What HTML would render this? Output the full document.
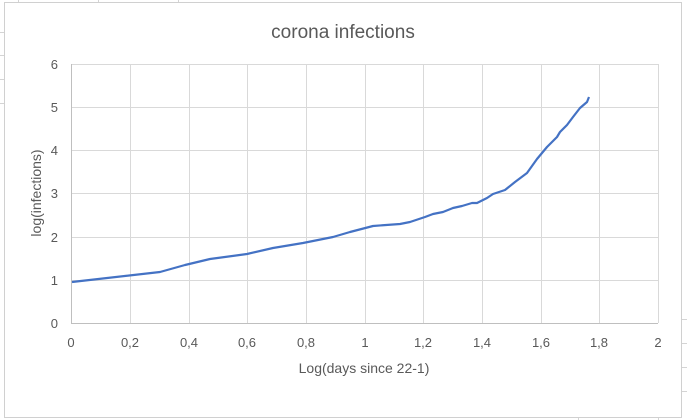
<!DOCTYPE html>
<html><head><meta charset="utf-8"><style>
html,body{margin:0;padding:0;background:#fff;}
svg{display:block;font-family:"Liberation Sans",sans-serif;}
</style></head><body>
<svg width="687" height="420" viewBox="0 0 687 420">
<g stroke="#d4d4d4" stroke-width="1">
<line x1="18.5" y1="0" x2="18.5" y2="3"/><line x1="98.5" y1="0" x2="98.5" y2="3"/><line x1="178.5" y1="0" x2="178.5" y2="3"/>
<line x1="0" y1="32.5" x2="4" y2="32.5"/><line x1="0" y1="55.5" x2="4" y2="55.5"/><line x1="0" y1="79.5" x2="4" y2="79.5"/><line x1="0" y1="103.5" x2="4" y2="103.5"/>
<line x1="682" y1="319.5" x2="687" y2="319.5"/><line x1="682" y1="343.5" x2="687" y2="343.5"/><line x1="682" y1="367.5" x2="687" y2="367.5"/><line x1="682" y1="391.5" x2="687" y2="391.5"/>
<line x1="578.5" y1="418" x2="578.5" y2="420"/><line x1="658.5" y1="418" x2="658.5" y2="420"/>
</g>
<rect x="4.5" y="2.5" width="677" height="415" fill="#fff" stroke="#d0d0d0"/>
<text x="343" y="38" text-anchor="middle" font-size="19" fill="#595959">corona infections</text>
<g stroke="#d9d9d9" stroke-width="1">
<line x1="71" y1="64.5" x2="658" y2="64.5"/><line x1="71" y1="107.5" x2="658" y2="107.5"/><line x1="71" y1="150.5" x2="658" y2="150.5"/><line x1="71" y1="193.5" x2="658" y2="193.5"/><line x1="71" y1="237.5" x2="658" y2="237.5"/><line x1="71" y1="280.5" x2="658" y2="280.5"/>
<line x1="130.5" y1="64" x2="130.5" y2="323"/><line x1="189.5" y1="64" x2="189.5" y2="323"/><line x1="247.5" y1="64" x2="247.5" y2="323"/><line x1="306.5" y1="64" x2="306.5" y2="323"/><line x1="365.5" y1="64" x2="365.5" y2="323"/><line x1="423.5" y1="64" x2="423.5" y2="323"/><line x1="482.5" y1="64" x2="482.5" y2="323"/><line x1="541.5" y1="64" x2="541.5" y2="323"/><line x1="599.5" y1="64" x2="599.5" y2="323"/><line x1="658.5" y1="64" x2="658.5" y2="323"/>
</g>
<g stroke="#bfbfbf"><line x1="71.5" y1="64" x2="71.5" y2="323"/><line x1="71" y1="323.5" x2="658" y2="323.5"/></g>
<g font-size="13" fill="#595959" text-anchor="end">
<text x="58" y="69">6</text><text x="58" y="112">5</text><text x="58" y="155">4</text><text x="58" y="198">3</text><text x="58" y="242">2</text><text x="58" y="285">1</text><text x="58" y="328">0</text>
</g>
<g font-size="13" fill="#595959" text-anchor="middle">
<text x="71" y="347">0</text><text x="130" y="347">0,2</text><text x="189" y="347">0,4</text><text x="247" y="347">0,6</text><text x="306" y="347">0,8</text><text x="365" y="347">1</text><text x="423" y="347">1,2</text><text x="482" y="347">1,4</text><text x="541" y="347">1,6</text><text x="599" y="347">1,8</text><text x="658" y="347">2</text>
</g>
<text x="364" y="373" text-anchor="middle" font-size="14" fill="#595959">Log(days since 22-1)</text>
<text transform="translate(41,193) rotate(-90)" text-anchor="middle" font-size="14" fill="#595959">log(infections)</text>
<polyline fill="none" stroke="#4472c4" stroke-width="2.2" stroke-linejoin="round" points="72,282 160,272 185,265 210,259 247,254 273,248 303,243 333,237 350,232 373,226 400,224 410,222 425,217 433,214 443,212 453,208 462,206 472,203 477,203 487,198 493,194 505,190 515,182 527,173 537,159 547,147 557,137 560,132 567,125 573,117 580,108 587,102 589,97"/>
</svg>
</body></html>
